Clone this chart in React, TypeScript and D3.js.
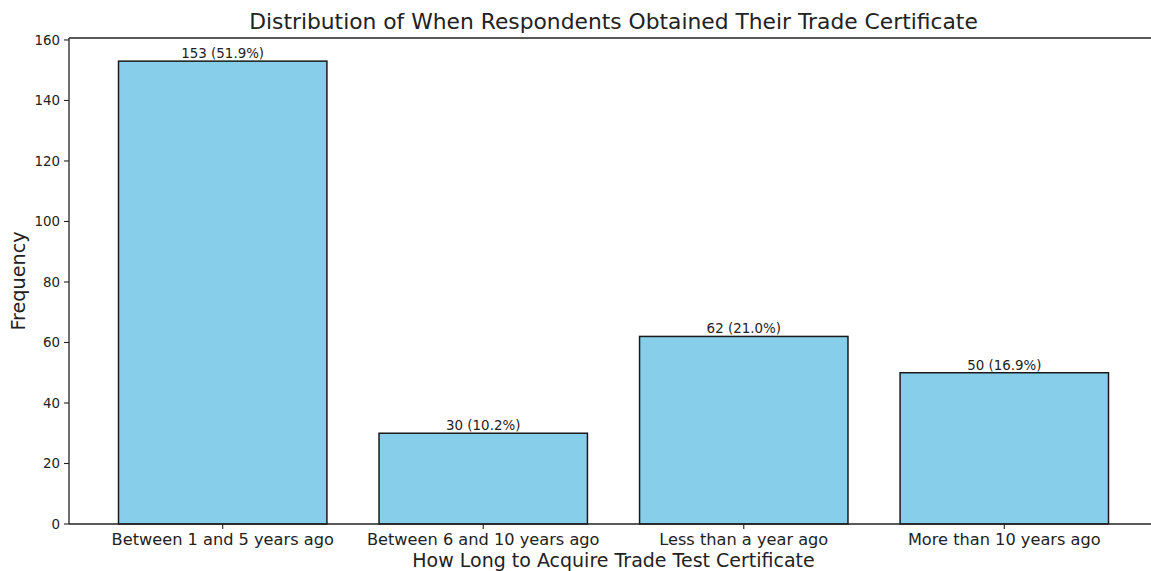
import React from "react";
import * as d3 from "d3";

const categories = [
  "Between 1 and 5 years ago",
  "Between 6 and 10 years ago",
  "Less than a year ago",
  "More than 10 years ago",
];
const counts = [153, 30, 62, 50];
const percentLabels = ["51.9%", "10.2%", "21.0%", "16.9%"];
const yTicks = [0, 20, 40, 60, 80, 100, 120, 140, 160];

const W = 1151;
const H = 571;
const left = 69;
const right = 1158;
const top = 38;
const bottom = 524;
const FONT = "DejaVu Sans, sans-serif";

export default function App() {
  const n = categories.length;
  const x = d3.scaleLinear().domain([-0.59, n - 1 + 0.59]).range([left, right]);
  const y = d3.scaleLinear().domain([0, 160.65]).range([bottom, top]);
  const bw = x(0.8) - x(0);
  return (
    <svg width={W} height={H} style={{ position: "absolute", left: 0, top: 0 }}>
      <rect x={0} y={0} width={W} height={H} fill="#fff" />
      {counts.map((c, i) => (
        <g key={i}>
          <rect
            x={x(i) - bw / 2}
            y={y(c)}
            width={bw}
            height={y(0) - y(c)}
            fill="#87CEEB"
            stroke="#1a1a1a"
            strokeWidth={1.5}
          />
          <text
            x={x(i)}
            y={y(c) - 3}
            textAnchor="middle"
            fontFamily={FONT}
            fontSize={13.4}
            fill="#222"
          >
            {`${c} (${percentLabels[i]})`}
          </text>
        </g>
      ))}
      {/* spines */}
      <line x1={left} x2={left} y1={top} y2={bottom} stroke="#222" strokeWidth={1.3} />
      <line x1={left} x2={right} y1={bottom} y2={bottom} stroke="#222" strokeWidth={1.3} />
      <line x1={left} x2={right} y1={top} y2={top} stroke="#222" strokeWidth={1.3} />
      <line x1={right} x2={right} y1={top} y2={bottom} stroke="#222" strokeWidth={1.3} />
      {yTicks.map((t) => (
        <g key={t}>
          <line x1={left - 5} x2={left} y1={y(t)} y2={y(t)} stroke="#222" strokeWidth={1.1} />
          <text
            x={left - 9}
            y={y(t)}
            dy="0.35em"
            textAnchor="end"
            fontFamily={FONT}
            fontSize={13.4}
            fill="#222"
          >
            {t}
          </text>
        </g>
      ))}
      {categories.map((c, i) => (
        <g key={c}>
          <line x1={x(i)} x2={x(i)} y1={bottom} y2={bottom + 5} stroke="#222" strokeWidth={1.1} />
          <text
            x={x(i)}
            y={545}
            textAnchor="middle"
            fontFamily={FONT}
            fontSize={16.2}
            fill="#222"
          >
            {c}
          </text>
        </g>
      ))}
      <text
        x={(left + right) / 2}
        y={567}
        textAnchor="middle"
        fontFamily={FONT}
        fontSize={19}
        fill="#222"
      >
        How Long to Acquire Trade Test Certificate
      </text>
      <text
        transform={`translate(25, ${(top + bottom) / 2}) rotate(-90)`}
        textAnchor="middle"
        fontFamily={FONT}
        fontSize={19.2}
        fill="#222"
      >
        Frequency
      </text>
      <text
        x={(left + right) / 2}
        y={29}
        textAnchor="middle"
        fontFamily={FONT}
        fontSize={21.8}
        fill="#222"
      >
        Distribution of When Respondents Obtained Their Trade Certificate
      </text>
    </svg>
  );
}
